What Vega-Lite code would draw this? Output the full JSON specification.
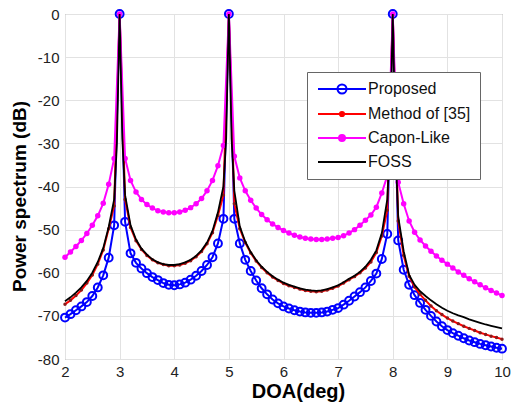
{
  "$schema": "https://vega.github.io/schema/vega-lite/v6.json",
  "width": 437,
  "height": 345,
  "autosize": {"type": "none"},
  "padding": {"left": 65, "top": 14, "right": 9, "bottom": 48},
  "background": "white",
  "config": {
    "view": {"stroke": "#808080", "strokeWidth": 1},
    "axis": {
      "grid": true, "gridColor": "#e2e2e2", "gridWidth": 1, "domain": false, "ticks": false,
      "labelFont": "Liberation Sans", "labelFontSize": 15, "labelColor": "#222",
      "titleFont": "Liberation Sans", "titleFontWeight": "bold", "titleColor": "#000"
    },
    "legend": {
      "orient": "none", "legendX": 242, "legendY": 58, "padding": 9,
      "strokeColor": "#666", "fillColor": "white",
      "labelFont": "Liberation Sans", "labelFontSize": 16, "labelColor": "#111",
      "symbolSize": 144, "symbolStrokeWidth": 2, "rowPadding": 8, "labelOffset": 36
    }
  },
  "data": {"values": [
    {"x": 2.0, "P": -70.4, "M": -67.3, "C": -56.4, "F": -66.6},
    {"x": 2.1, "P": -69.6, "M": -66.4, "C": -55.2, "F": -65.7},
    {"x": 2.2, "P": -68.7, "M": -65.3, "C": -53.9, "F": -64.6},
    {"x": 2.3, "P": -67.8, "M": -64.0, "C": -52.5, "F": -63.4},
    {"x": 2.4, "P": -66.8, "M": -62.4, "C": -50.9, "F": -61.9},
    {"x": 2.5, "P": -65.4, "M": -60.5, "C": -49.0, "F": -60.0},
    {"x": 2.6, "P": -63.4, "M": -58.0, "C": -46.8, "F": -57.5},
    {"x": 2.7, "P": -60.6, "M": -54.7, "C": -43.9, "F": -54.3},
    {"x": 2.8, "P": -56.5, "M": -49.8, "C": -39.5, "F": -49.4},
    {"x": 2.9, "P": -49.0, "M": -44.5, "C": -33.5, "F": -43.0},
    {"x": 2.95, "F": -30},
    {"x": 2.98, "F": -12},
    {"x": 3.0, "P": 0, "M": 0, "C": 0, "F": 0},
    {"x": 3.02, "F": -12},
    {"x": 3.05, "F": -29},
    {"x": 3.1, "P": -48.2, "M": -43.0, "C": -33.5, "F": -42.0},
    {"x": 3.2, "P": -55.5, "M": -49.5, "C": -38.6, "F": -49.0},
    {"x": 3.3, "P": -57.7, "M": -52.6, "C": -41.3, "F": -52.3},
    {"x": 3.4, "P": -59.0, "M": -54.6, "C": -43.0, "F": -54.4},
    {"x": 3.5, "P": -60.1, "M": -56.0, "C": -44.2, "F": -55.8},
    {"x": 3.6, "P": -61.0, "M": -57.0, "C": -45.0, "F": -56.9},
    {"x": 3.7, "P": -61.7, "M": -57.7, "C": -45.6, "F": -57.6},
    {"x": 3.8, "P": -62.4, "M": -58.1, "C": -45.9, "F": -58.0},
    {"x": 3.9, "P": -62.8, "M": -58.4, "C": -46.1, "F": -58.2},
    {"x": 4.0, "P": -62.9, "M": -58.4, "C": -46.1, "F": -58.2},
    {"x": 4.1, "P": -62.7, "M": -58.2, "C": -45.9, "F": -58.0},
    {"x": 4.2, "P": -62.3, "M": -57.8, "C": -45.5, "F": -57.6},
    {"x": 4.3, "P": -61.6, "M": -57.2, "C": -44.9, "F": -57.0},
    {"x": 4.4, "P": -60.7, "M": -56.3, "C": -44.0, "F": -56.1},
    {"x": 4.5, "P": -59.6, "M": -55.1, "C": -42.8, "F": -54.8},
    {"x": 4.6, "P": -58.2, "M": -53.3, "C": -41.0, "F": -53.0},
    {"x": 4.7, "P": -56.4, "M": -50.7, "C": -38.6, "F": -50.3},
    {"x": 4.8, "P": -53.2, "M": -46.7, "C": -35.2, "F": -46.0},
    {"x": 4.9, "P": -47.5, "M": -42.0, "C": -30.5, "F": -40.0},
    {"x": 4.95, "F": -29},
    {"x": 4.98, "F": -11},
    {"x": 5.0, "P": 0, "M": 0, "C": 0, "F": 0},
    {"x": 5.02, "F": -11},
    {"x": 5.05, "F": -29},
    {"x": 5.1, "P": -47.5, "M": -44.0, "C": -33.0, "F": -41.0},
    {"x": 5.2, "P": -53.2, "M": -49.8, "C": -38.0, "F": -49.3},
    {"x": 5.3, "P": -57.0, "M": -53.0, "C": -41.0, "F": -52.8},
    {"x": 5.4, "P": -59.6, "M": -55.4, "C": -43.2, "F": -55.2},
    {"x": 5.5, "P": -61.8, "M": -57.3, "C": -45.0, "F": -57.1},
    {"x": 5.6, "P": -63.6, "M": -58.8, "C": -46.5, "F": -58.6},
    {"x": 5.7, "P": -65.0, "M": -60.0, "C": -47.7, "F": -59.8},
    {"x": 5.8, "P": -66.2, "M": -61.0, "C": -48.7, "F": -60.8},
    {"x": 5.9, "P": -67.1, "M": -61.8, "C": -49.5, "F": -61.6},
    {"x": 6.0, "P": -67.8, "M": -62.5, "C": -50.2, "F": -62.3},
    {"x": 6.1, "P": -68.3, "M": -63.0, "C": -50.8, "F": -62.8},
    {"x": 6.2, "P": -68.7, "M": -63.4, "C": -51.3, "F": -63.2},
    {"x": 6.3, "P": -69.0, "M": -63.8, "C": -51.7, "F": -63.6},
    {"x": 6.4, "P": -69.2, "M": -64.1, "C": -52.0, "F": -63.9},
    {"x": 6.5, "P": -69.3, "M": -64.3, "C": -52.2, "F": -64.1},
    {"x": 6.6, "P": -69.3, "M": -64.4, "C": -52.3, "F": -64.2},
    {"x": 6.7, "P": -69.2, "M": -64.3, "C": -52.3, "F": -64.1},
    {"x": 6.8, "P": -69.0, "M": -64.0, "C": -52.2, "F": -63.8},
    {"x": 6.9, "P": -68.6, "M": -63.6, "C": -52.0, "F": -63.4},
    {"x": 7.0, "P": -68.2, "M": -63.1, "C": -51.8, "F": -62.9},
    {"x": 7.1, "P": -67.4, "M": -62.4, "C": -51.4, "F": -62.2},
    {"x": 7.2, "P": -66.5, "M": -61.6, "C": -50.8, "F": -61.4},
    {"x": 7.3, "P": -65.5, "M": -60.9, "C": -50.0, "F": -60.7},
    {"x": 7.4, "P": -64.5, "M": -60.0, "C": -49.0, "F": -59.8},
    {"x": 7.5, "P": -63.4, "M": -58.9, "C": -47.8, "F": -58.6},
    {"x": 7.6, "P": -61.9, "M": -57.5, "C": -46.6, "F": -57.0},
    {"x": 7.7, "P": -60.2, "M": -55.3, "C": -44.8, "F": -54.8},
    {"x": 7.8, "P": -56.8, "M": -51.5, "C": -41.5, "F": -50.8},
    {"x": 7.9, "P": -51.0, "M": -45.5, "C": -37.5, "F": -43.0},
    {"x": 7.95, "F": -30},
    {"x": 7.98, "F": -12},
    {"x": 8.0, "P": 0, "M": 0, "C": 0, "F": 0},
    {"x": 8.02, "F": -12},
    {"x": 8.05, "F": -31},
    {"x": 8.1, "P": -52.5, "M": -48.0, "C": -39.0, "F": -47.0},
    {"x": 8.2, "P": -59.3, "M": -56.0, "C": -44.0, "F": -55.0},
    {"x": 8.3, "P": -62.8, "M": -60.8, "C": -48.0, "F": -60.5},
    {"x": 8.4, "P": -65.2, "M": -63.3, "C": -50.6, "F": -62.8},
    {"x": 8.5, "P": -67.0, "M": -65.0, "C": -52.4, "F": -64.3},
    {"x": 8.6, "P": -68.6, "M": -66.4, "C": -53.8, "F": -65.4},
    {"x": 8.7, "P": -70.0, "M": -67.7, "C": -55.0, "F": -66.4},
    {"x": 8.8, "P": -71.3, "M": -68.8, "C": -56.1, "F": -67.3},
    {"x": 8.9, "P": -72.4, "M": -69.7, "C": -57.1, "F": -68.1},
    {"x": 9.0, "P": -73.3, "M": -70.5, "C": -58.0, "F": -68.8},
    {"x": 9.1, "P": -74.0, "M": -71.2, "C": -58.9, "F": -69.4},
    {"x": 9.2, "P": -74.6, "M": -71.8, "C": -59.8, "F": -69.9},
    {"x": 9.3, "P": -75.2, "M": -72.4, "C": -60.6, "F": -70.3},
    {"x": 9.4, "P": -75.7, "M": -72.9, "C": -61.4, "F": -70.8},
    {"x": 9.5, "P": -76.1, "M": -73.4, "C": -62.1, "F": -71.2},
    {"x": 9.6, "P": -76.5, "M": -73.9, "C": -62.8, "F": -71.6},
    {"x": 9.7, "P": -76.8, "M": -74.3, "C": -63.5, "F": -72.0},
    {"x": 9.8, "P": -77.1, "M": -74.7, "C": -64.1, "F": -72.3},
    {"x": 9.9, "P": -77.4, "M": -75.0, "C": -64.7, "F": -72.6},
    {"x": 10.0, "P": -77.6, "M": -75.4, "C": -65.3, "F": -72.9}
  ]},
  "transform": [{"fold": ["P", "M", "C", "F"], "as": ["s", "v"]}],
  "encoding": {
    "x": {"field": "x", "type": "quantitative",
      "scale": {"domain": [2, 10], "nice": false, "zero": false},
      "axis": {"values": [2, 3, 4, 5, 6, 7, 8, 9, 10], "labelPadding": 5, "titleFontSize": 20, "titlePadding": 2, "labelFlush": false, "titleX": 233},
      "title": "DOA(deg)"},
    "y": {"field": "v", "type": "quantitative",
      "scale": {"domain": [-80, 0], "nice": false, "zero": false},
      "axis": {"values": [-80, -70, -60, -50, -40, -30, -20, -10, 0], "labelPadding": 6, "titleFontSize": 19, "titlePadding": 8, "labelExpr": "'' + datum.value", "titleY": 182},
      "title": "Power spectrum (dB)"}
  },
  "layer": [
    {"transform": [{"filter": "datum.s == 'P' && isValid(datum.v)"}],
     "mark": {"type": "line", "color": "#0000ff", "strokeWidth": 2,
       "point": {"filled": false, "size": 62, "strokeWidth": 2, "color": "#0000ff", "opacity": 1}}},
    {"transform": [{"filter": "datum.s == 'M' && isValid(datum.v)"}],
     "mark": {"type": "line", "color": "#ff0000", "strokeWidth": 2,
       "point": {"filled": true, "size": 12, "color": "#8b1a1a", "opacity": 1}}},
    {"transform": [{"filter": "datum.s == 'C' && isValid(datum.v)"}],
     "mark": {"type": "line", "color": "#ff00ff", "strokeWidth": 2,
       "point": {"filled": true, "size": 30, "color": "#ff00ff", "opacity": 1}}},
    {"transform": [{"filter": "datum.s == 'F' && isValid(datum.v)"}],
     "mark": {"type": "line", "color": "#000000", "strokeWidth": 1.8}},
    {"transform": [{"filter": "false"}],
     "mark": {"type": "point", "filled": false, "opacity": 1, "size": 144, "strokeWidth": 2},
     "encoding": {
       "stroke": {"field": "s", "type": "nominal", "title": null,
         "scale": {"domain": ["Proposed", "Method of [35]", "Capon-Like", "FOSS"], "range": ["#0000ff", "#ff0000", "#ff00ff", "#000000"]}},
       "fill": {"field": "s", "type": "nominal", "title": null,
         "scale": {"domain": ["Proposed", "Method of [35]", "Capon-Like", "FOSS"], "range": ["transparent", "#8b1a1a", "#ff00ff", "transparent"]}},
       "shape": {"field": "s", "type": "nominal", "title": null,
         "scale": {"domain": ["Proposed", "Method of [35]", "Capon-Like", "FOSS"],
           "range": ["M-1,0H7M3.75,0A0.75,0.75 0 1,1 2.25,0A0.75,0.75 0 1,1 3.75,0Z",
                     "M-1,0H7M3.35,0A0.35,0.35 0 1,1 2.65,0A0.35,0.35 0 1,1 3.35,0Z",
                     "M-1,0H7M3.5,0A0.5,0.5 0 1,1 2.5,0A0.5,0.5 0 1,1 3.5,0Z",
                     "M-1,0H7"]}}
     }}
  ]
}
